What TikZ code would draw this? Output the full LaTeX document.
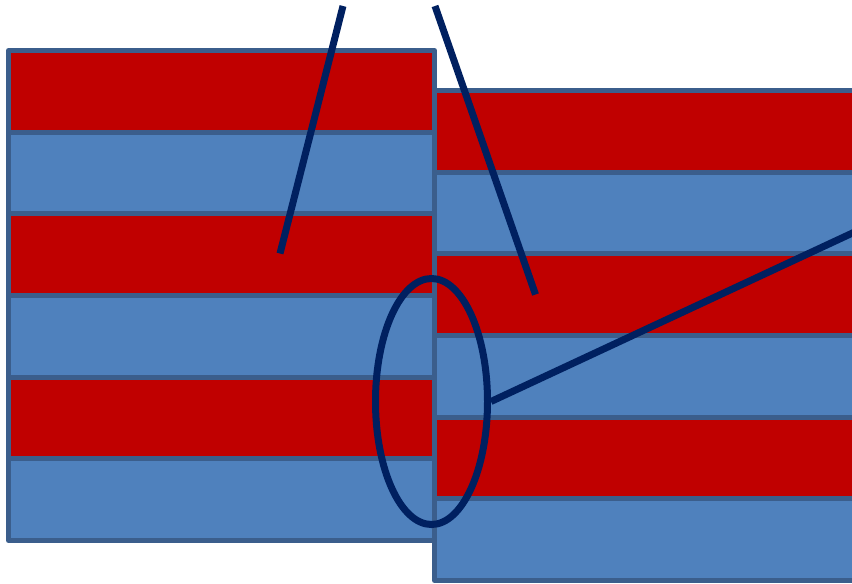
\documentclass[tikz,border=0pt]{standalone}
\usetikzlibrary{shapes.geometric}
\definecolor{bandred}{HTML}{C00000}
\definecolor{bandblue}{HTML}{4F81BD}
\definecolor{bandedge}{HTML}{3B5E8C}
\definecolor{navy}{HTML}{002060}
\tikzset{
  redband/.style={fill=bandred,draw=bandedge,line width=5pt,line join=round},
  blueband/.style={fill=bandblue,draw=bandedge,line width=5pt,line join=round},
  pointer/.style={draw=navy,line width=7pt},
}
\begin{document}
\begin{tikzpicture}[x=1pt,y=-1pt]
\useasboundingbox (0,0) rectangle (852,584);
\clip (0,0) rectangle (852,584);
% left stack
\foreach \i in {0,...,5}{
  \pgfmathsetmacro{\ya}{50.5+81.667*\i}
  \pgfmathsetmacro{\yb}{50.5+81.667*(\i+1)}
  \pgfmathparse{mod(\i,2)==0 ? "redband" : "blueband"}
  \edef\sty{\pgfmathresult}
  \draw[style=\sty] (8.5,\ya) rectangle (434.5,\yb);
}
% right stack
\foreach \i in {0,...,5}{
  \pgfmathsetmacro{\ya}{90.5+81.667*\i}
  \pgfmathsetmacro{\yb}{90.5+81.667*(\i+1)}
  \pgfmathparse{mod(\i,2)==0 ? "redband" : "blueband"}
  \edef\sty{\pgfmathresult}
  \draw[style=\sty] (434.5,\ya) rectangle (880,\yb);
}
\node[ellipse,draw=navy,line width=7pt,minimum width=112pt,minimum height=246pt,inner sep=0pt] (ell) at (431.5,401.5) {};
\coordinate (t1) at (343,6);
\coordinate (b1) at (280,253.5);
\coordinate (t2) at (435,6);
\coordinate (b2) at (535.5,294.5);
\coordinate (r3) at (860,229.5);
\draw[pointer] (t1) -- (b1);
\draw[pointer] (t2) -- (b2);
\draw[pointer] (r3) -- (ell.east);
\end{tikzpicture}
\end{document}
